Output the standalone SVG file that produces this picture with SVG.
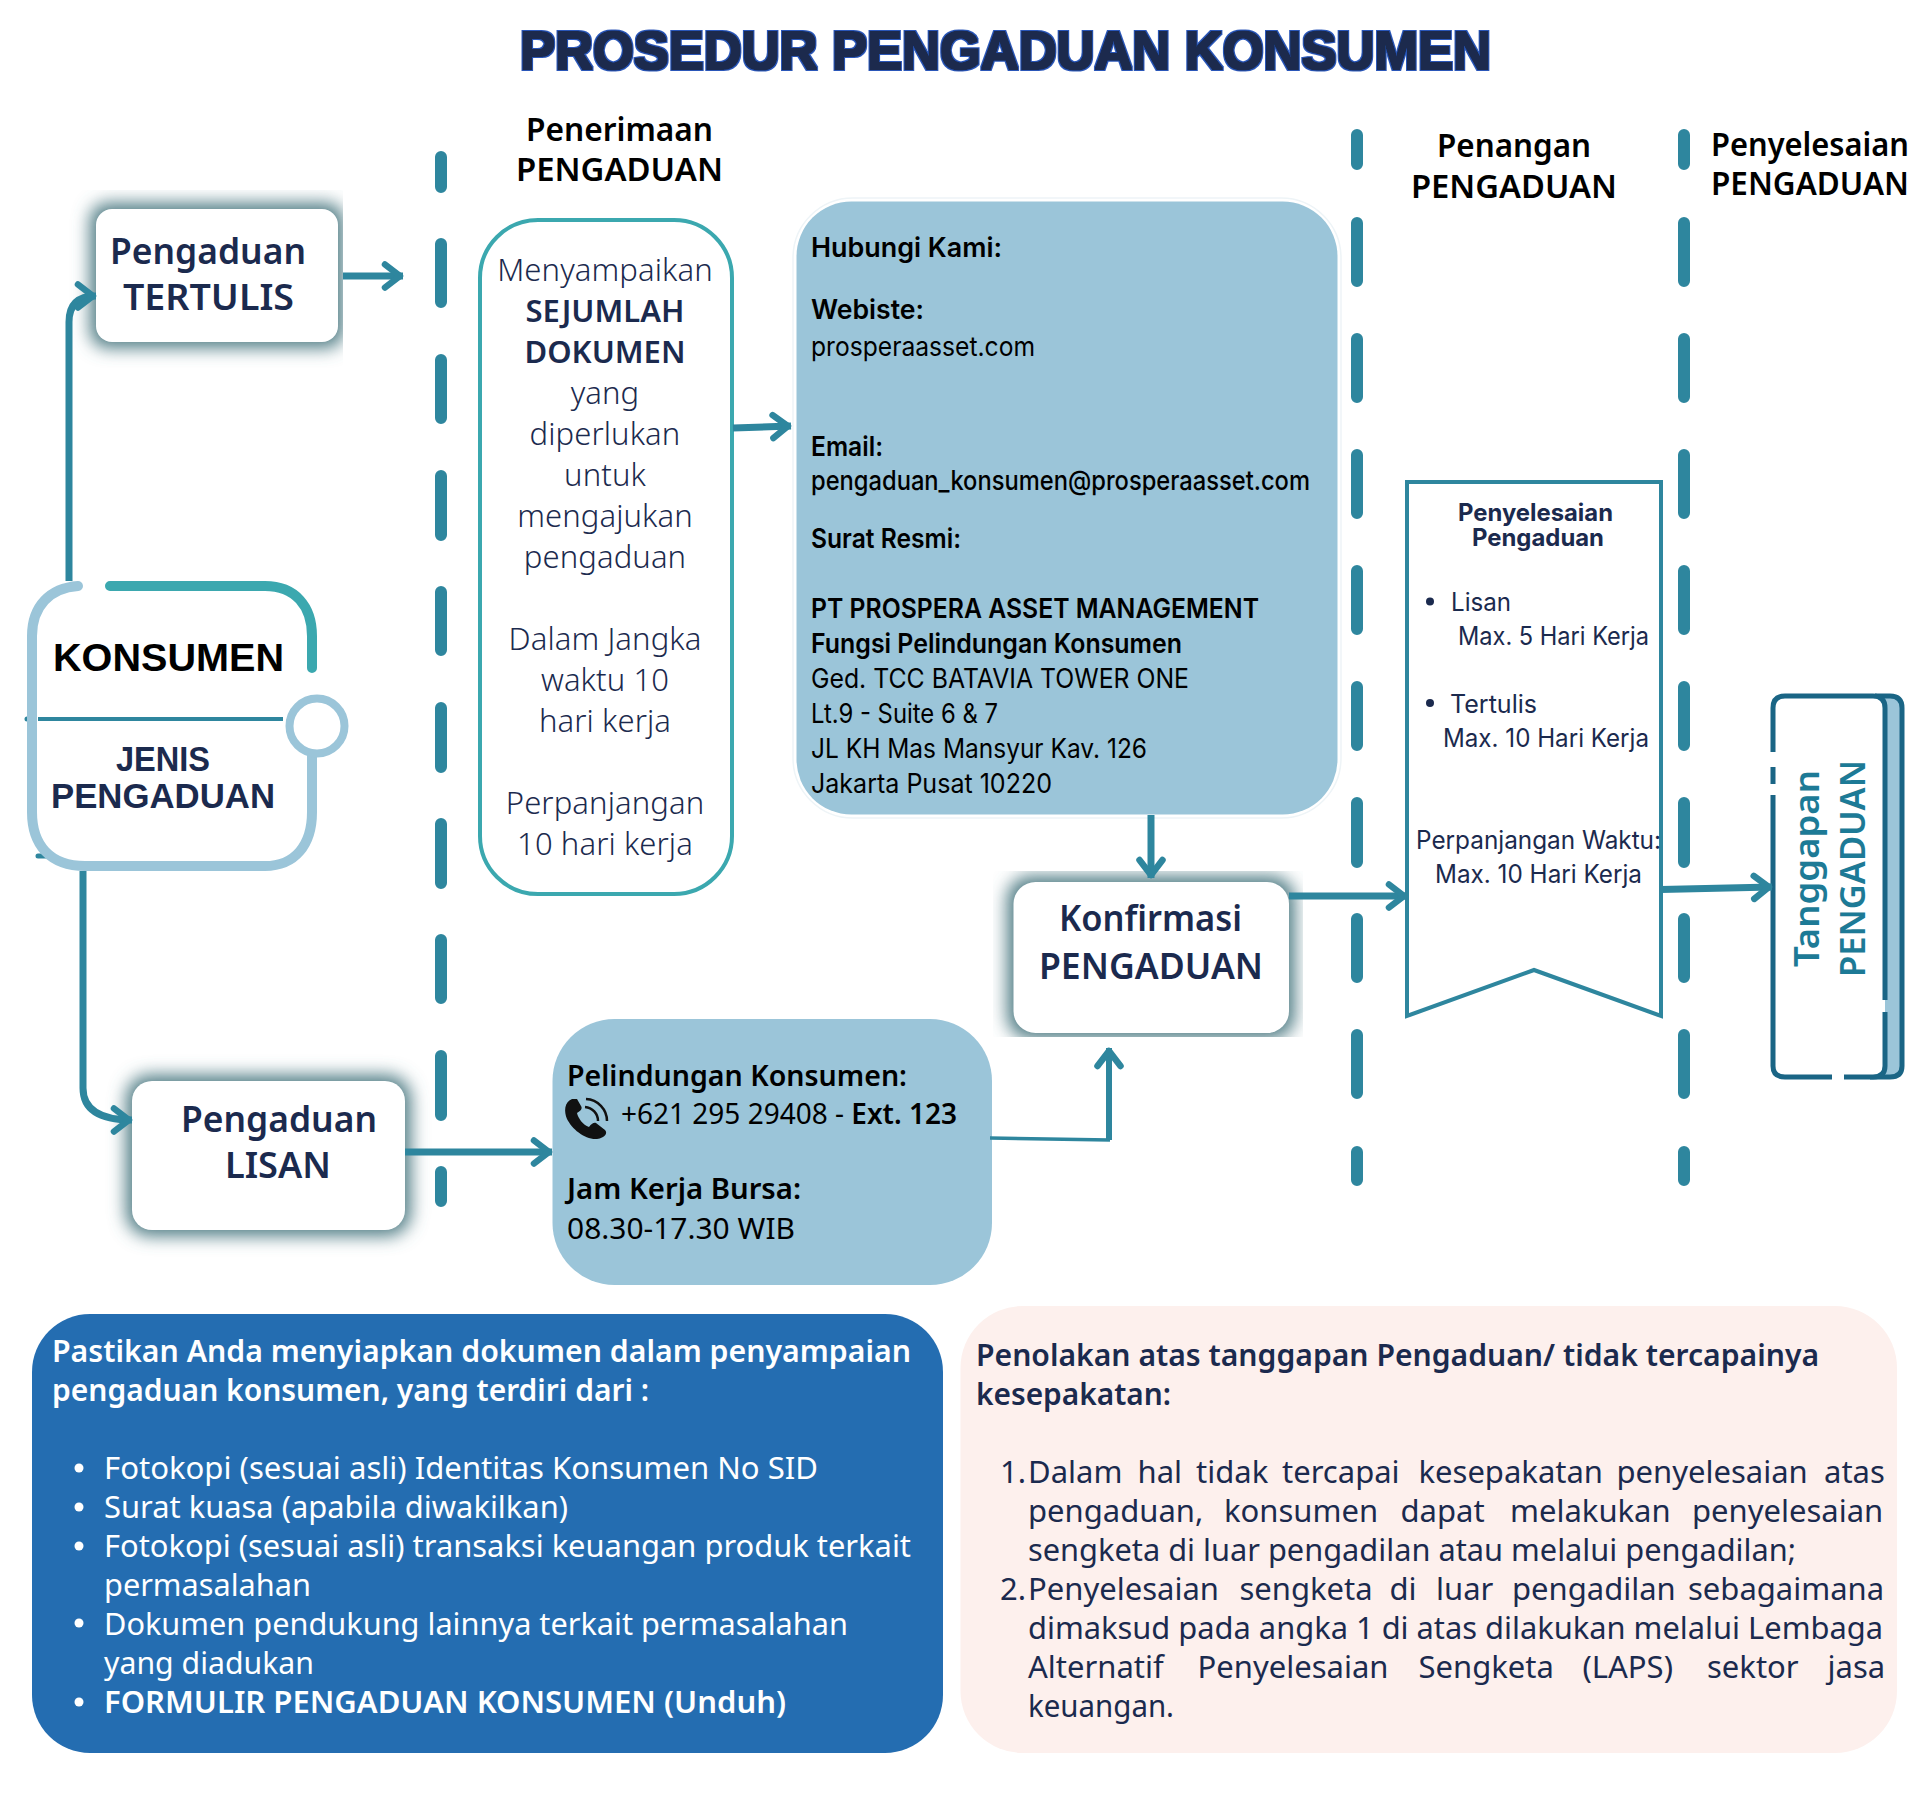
<svg xmlns="http://www.w3.org/2000/svg" width="1920" height="1800" viewBox="0 0 1920 1800">
<style>
text{font-family:"Noto Sans","Liberation Sans",sans-serif;fill:#1b2a4e}
.title{font-family:"Liberation Sans",sans-serif;font-weight:700;font-size:53px;fill:#1a2a4e;filter:url(#heavy)}
.hd{font-weight:600;font-size:32px;fill:#000}
.nd{font-weight:600;font-size:36px}
.md{font-weight:300;font-size:31px;letter-spacing:.1px;text-anchor:middle}
.mdb{font-weight:600;font-size:31px;text-anchor:middle}
.k{font-family:"Liberation Sans",sans-serif;font-weight:700;font-size:38px}
.k2{font-family:"Liberation Sans",sans-serif;font-weight:700;font-size:35px}
.c{font-family:Inter,"Noto Sans",sans-serif;font-size:27px;fill:#000;font-weight:400}
.cb{font-family:Inter,"Noto Sans",sans-serif;font-size:27px;fill:#000;font-weight:600}
.p{font-size:29px;fill:#000}
.pb{font-size:29px;fill:#000;font-weight:600}
.s{font-family:Inter,"Noto Sans",sans-serif;font-size:25px;font-weight:400}
.sb{font-family:Inter,"Noto Sans",sans-serif;font-size:24px;font-weight:700}
.w{font-size:31px;fill:#fff}
.wb{font-size:31px;fill:#fff;font-weight:600}
.d{font-size:31px}
.db{font-size:31px;font-weight:600}
.tg{font-weight:600;font-size:34px;fill:#1d7a96}
.box{fill:#9bc5d9}
.white{fill:#fff}
.shadow{fill:#4f7c84;filter:url(#blur)}
.lane{fill:none;stroke:#2e869e;stroke-width:12;stroke-linecap:round}
.conn{fill:none;stroke:#2e869e;stroke-width:7}
.arrow{marker-end:url(#ah)}
</style>
<defs>
<filter id="blur" x="-30%" y="-30%" width="160%" height="160%"><feGaussianBlur stdDeviation="8.5"/></filter>
<filter id="heavy" x="-2%" y="-20%" width="104%" height="140%">
<feMorphology in="SourceGraphic" operator="dilate" radius="0.7" result="core"/>
<feMorphology in="SourceAlpha" operator="dilate" radius="2.2" result="out"/>
<feFlood flood-color="#2a56b8"/><feComposite in2="out" operator="in" result="edge"/>
<feMerge><feMergeNode in="edge"/><feMergeNode in="core"/></feMerge>
</filter>
<clipPath id="clipT"><rect x="50" y="190" width="293" height="178"/></clipPath>
<clipPath id="clipK"><rect x="993" y="871" width="310" height="166"/></clipPath>
<marker id="ah" markerUnits="userSpaceOnUse" viewBox="0 0 32 36" refX="29" refY="18" markerWidth="32" markerHeight="36" orient="auto"><path d="M11 6.5L26 18L11 29.5" fill="none" stroke="#2e869e" stroke-width="6.5" stroke-linecap="round" stroke-linejoin="round"/></marker>
</defs>
<rect width="1920" height="1800" fill="#fff"/>
<text class="title" x="520" y="69" textLength="971" lengthAdjust="spacingAndGlyphs">PROSEDUR PENGADUAN KONSUMEN</text>
<g id="lanes">
<path class="lane" d="M441 157V187M441 244V302M441 360V418M441 476V535M441 592V650M441 708V767M441 824V883M441 940V998M441 1056V1115M441 1172V1201"/>
<path class="lane" d="M1357 135V164M1357 223V281M1357 339V397M1357 455V513M1357 571V629M1357 687V745M1357 803V862M1357 919V977M1357 1035V1093M1357 1152V1180"/>
<path class="lane" d="M1684 135V164M1684 223V281M1684 339V397M1684 455V513M1684 571V629M1684 687V745M1684 803V862M1684 919V977M1684 1035V1093M1684 1152V1180"/>
</g>
<g id="header-penerimaan"><text class="hd" x="526" y="141" textLength="187" lengthAdjust="spacingAndGlyphs">Penerimaan</text><text class="hd" x="516" y="181" textLength="207" lengthAdjust="spacingAndGlyphs">PENGADUAN</text></g>
<g id="header-penangan"><text class="hd" x="1437" y="157" textLength="154" lengthAdjust="spacingAndGlyphs">Penangan</text><text class="hd" x="1411" y="198" textLength="206" lengthAdjust="spacingAndGlyphs">PENGADUAN</text></g>
<g id="header-penyelesaian"><text class="hd" x="1711" y="156" textLength="198" lengthAdjust="spacingAndGlyphs">Penyelesaian</text><text class="hd" x="1711" y="195" textLength="198" lengthAdjust="spacingAndGlyphs">PENGADUAN</text></g>
<g id="node-tertulis">
<g clip-path="url(#clipT)"><rect class="shadow" x="90" y="203" width="254" height="145" rx="18"/></g>
<rect class="white" x="96" y="209" width="242" height="133" rx="16"/>
<text class="nd" x="110" y="264" textLength="196" lengthAdjust="spacingAndGlyphs">Pengaduan</text>
<text class="nd" x="123" y="310" textLength="171" lengthAdjust="spacingAndGlyphs">TERTULIS</text>
</g>
<g id="node-konsumen">
<rect class="white" x="32" y="586" width="280" height="280" rx="50"/>
<path d="M38 719H283" stroke="#2e869e" stroke-width="4" fill="none"/>
<path d="M27 719H32M38 856H50" stroke="#2e869e" stroke-width="5" fill="none" stroke-linecap="round"/>
<path d="M78 586C50 588 32 606 32 636V812C32 845 50 866 85 866H265C295 866 312 845 312 812V750" fill="none" stroke="#9bc5d9" stroke-width="10" stroke-linecap="round"/>
<path d="M110 586H265C295 586 312 606 312 636V668" fill="none" stroke="#3ba8af" stroke-width="10" stroke-linecap="round"/>
<circle cx="317" cy="726" r="27.5" fill="#fff" stroke="#9bc5d9" stroke-width="8"/>
<text class="k" style="fill:#000" x="53" y="671" textLength="231" lengthAdjust="spacingAndGlyphs">KONSUMEN</text>
<text class="k2" x="116" y="771" textLength="94" lengthAdjust="spacingAndGlyphs">JENIS</text>
<text class="k2" x="51" y="808" textLength="224" lengthAdjust="spacingAndGlyphs">PENGADUAN</text>
</g>
<g id="node-lisan">
<rect class="shadow" x="126" y="1075" width="285" height="161" rx="24"/>
<rect class="white" x="132" y="1081" width="273" height="149" rx="20"/>
<text class="nd" x="181" y="1132" textLength="196" lengthAdjust="spacingAndGlyphs">Pengaduan</text>
<text class="nd" x="225" y="1178" textLength="106" lengthAdjust="spacingAndGlyphs">LISAN</text>
</g>
<g id="node-dokumen">
<rect x="480" y="220" width="252" height="674" rx="58" fill="#fff" stroke="#3ba8af" stroke-width="4"/>
<text class="md" x="605" y="281">Menyampaikan</text>
<text class="mdb" x="605" y="322">SEJUMLAH</text>
<text class="mdb" x="605" y="363">DOKUMEN</text>
<text class="md" x="605" y="404">yang</text>
<text class="md" x="605" y="445">diperlukan</text>
<text class="md" x="605" y="486">untuk</text>
<text class="md" x="605" y="527">mengajukan</text>
<text class="md" x="605" y="568">pengaduan</text>
<text class="md" x="605" y="650">Dalam Jangka</text>
<text class="md" x="605" y="691">waktu 10</text>
<text class="md" x="605" y="732">hari kerja</text>
<text class="md" x="605" y="814">Perpanjangan</text>
<text class="md" x="605" y="855">10 hari kerja</text>
</g>
<g id="node-kontak">
<rect x="793" y="198" width="548" height="620" rx="60" fill="#fff" stroke="#eef4f7" stroke-width="1.5"/>
<rect class="box" x="796.5" y="201.5" width="541" height="613" rx="55"/>
<text class="cb" x="811" y="257" textLength="191" lengthAdjust="spacingAndGlyphs">Hubungi Kami:</text>
<text class="cb" x="811" y="319" textLength="113" lengthAdjust="spacingAndGlyphs">Webiste:</text>
<text class="c" x="811" y="356" textLength="224" lengthAdjust="spacingAndGlyphs">prosperaasset.com</text>
<text class="cb" x="811" y="456" textLength="72" lengthAdjust="spacingAndGlyphs">Email:</text>
<text class="c" style="font-weight:500" x="811" y="490" textLength="499" lengthAdjust="spacingAndGlyphs">pengaduan_konsumen@prosperaasset.com</text>
<text class="cb" x="811" y="548" textLength="150" lengthAdjust="spacingAndGlyphs">Surat Resmi:</text>
<text class="cb" x="811" y="618" textLength="448" lengthAdjust="spacingAndGlyphs">PT PROSPERA ASSET MANAGEMENT</text>
<text class="cb" x="811" y="653" textLength="371" lengthAdjust="spacingAndGlyphs">Fungsi Pelindungan Konsumen</text>
<text class="c" x="811" y="688" textLength="378" lengthAdjust="spacingAndGlyphs">Ged. TCC BATAVIA TOWER ONE</text>
<text class="c" x="811" y="723" textLength="187" lengthAdjust="spacingAndGlyphs">Lt.9 - Suite 6 &amp; 7</text>
<text class="c" x="811" y="758" textLength="336" lengthAdjust="spacingAndGlyphs">JL KH Mas Mansyur Kav. 126</text>
<text class="c" x="811" y="793" textLength="241" lengthAdjust="spacingAndGlyphs">Jakarta Pusat 10220</text>
</g>
<g id="node-pelindungan">
<rect class="box" x="552.5" y="1019" width="439.5" height="266" rx="62"/>
<text class="pb" x="567" y="1086" textLength="340" lengthAdjust="spacingAndGlyphs">Pelindungan Konsumen:</text>
<path d="M572 1099C564 1102 564 1112 567 1119C572 1129 585 1140 597 1139C605 1138 608 1133 605 1130L596 1123C594 1122 591 1124 589 1127C583 1125 578 1118 577 1113C580 1111 583 1109 581 1106L577 1099Z" fill="#111"/>
<path d="M586 1099A22 22 0 0 1 607 1121M585 1107A14 14 0 0 1 598 1121" fill="none" stroke="#111" stroke-width="2.5"/>
<text class="p" x="621" y="1124" textLength="336" lengthAdjust="spacingAndGlyphs">+621 295 29408 - <tspan font-weight="600">Ext. 123</tspan></text>
<text class="pb" x="567" y="1199" textLength="234" lengthAdjust="spacingAndGlyphs">Jam Kerja Bursa:</text>
<text class="p" x="567" y="1239" textLength="228" lengthAdjust="spacingAndGlyphs">08.30-17.30 WIB</text>
</g>
<g id="node-konfirmasi">
<g clip-path="url(#clipK)"><rect class="shadow" x="1007" y="876" width="288" height="163" rx="24"/></g>
<rect class="white" x="1013.5" y="882" width="275.5" height="151" rx="22"/>
<text class="nd" x="1059" y="931" textLength="183" lengthAdjust="spacingAndGlyphs">Konfirmasi</text>
<text class="nd" x="1039" y="979" textLength="224" lengthAdjust="spacingAndGlyphs">PENGADUAN</text>
</g>
<g id="node-penyelesaian">
<path d="M1407 482H1661V1016L1534 970L1407 1016Z" fill="#fff" stroke="#2e869e" stroke-width="4"/>
<text class="sb" x="1458" y="521" textLength="155" lengthAdjust="spacingAndGlyphs">Penyelesaian</text>
<text class="sb" x="1472" y="546" textLength="132" lengthAdjust="spacingAndGlyphs">Pengaduan</text>
<circle cx="1430" cy="601.5" r="4" fill="#1b2a4e"/>
<text class="s" x="1451" y="611" textLength="60" lengthAdjust="spacingAndGlyphs">Lisan</text>
<text class="s" x="1458" y="645" textLength="191" lengthAdjust="spacingAndGlyphs">Max. 5 Hari Kerja</text>
<circle cx="1430" cy="703" r="4" fill="#1b2a4e"/>
<text class="s" x="1450" y="713" textLength="87" lengthAdjust="spacingAndGlyphs">Tertulis</text>
<text class="s" x="1443" y="747" textLength="206" lengthAdjust="spacingAndGlyphs">Max. 10 Hari Kerja</text>
<text class="s" x="1416" y="849" textLength="245" lengthAdjust="spacingAndGlyphs">Perpanjangan Waktu:</text>
<text class="s" x="1435" y="883" textLength="207" lengthAdjust="spacingAndGlyphs">Max. 10 Hari Kerja</text>
</g>
<g id="node-tanggapan">
<path class="box" d="M1785 696H1890Q1902 696 1902 708V1066Q1902 1077 1890 1077H1785Z"/>
<path d="M1875 696H1890Q1902 696 1902 708V1066Q1902 1077 1890 1077H1870" fill="none" stroke="#1a6585" stroke-width="5"/>
<rect class="white" x="1773" y="696" width="112" height="381" rx="12"/>
<path d="M1773 752V708Q1773 696 1785 696H1873Q1885 696 1885 708V1000M1885 1012V1066Q1885 1077 1873 1077H1844M1832 1077H1785Q1773 1077 1773 1066V795M1773 784V767" fill="none" stroke="#1a6585" stroke-width="5"/>
<text class="tg" transform="translate(1819 967) rotate(-90)" textLength="197" lengthAdjust="spacingAndGlyphs">Tanggapan</text>
<text class="tg" transform="translate(1865 977) rotate(-90)" textLength="217" lengthAdjust="spacingAndGlyphs">PENGADUAN</text>
</g>
<g id="node-dokumen-info">
<rect x="32" y="1314" width="911" height="439" rx="58" fill="#246db1"/>
<text class="wb" x="52" y="1362" textLength="859" lengthAdjust="spacingAndGlyphs">Pastikan Anda menyiapkan dokumen dalam penyampaian</text>
<text class="wb" x="52" y="1401" textLength="597" lengthAdjust="spacingAndGlyphs">pengaduan konsumen, yang terdiri dari :</text>
<circle cx="79" cy="1468" r="4.5" fill="#fff"/><circle cx="79" cy="1507" r="4.5" fill="#fff"/><circle cx="79" cy="1546" r="4.5" fill="#fff"/><circle cx="79" cy="1623" r="4.5" fill="#fff"/><circle cx="79" cy="1702" r="4.5" fill="#fff"/>
<text class="w" x="104" y="1479" textLength="714" lengthAdjust="spacingAndGlyphs">Fotokopi (sesuai asli) Identitas Konsumen No SID</text>
<text class="w" x="104" y="1518" textLength="464" lengthAdjust="spacingAndGlyphs">Surat kuasa (apabila diwakilkan)</text>
<text class="w" x="104" y="1557" textLength="807" lengthAdjust="spacingAndGlyphs">Fotokopi (sesuai asli) transaksi keuangan produk terkait</text>
<text class="w" x="104" y="1596" textLength="207" lengthAdjust="spacingAndGlyphs">permasalahan</text>
<text class="w" x="104" y="1635" textLength="744" lengthAdjust="spacingAndGlyphs">Dokumen pendukung lainnya terkait permasalahan</text>
<text class="w" x="104" y="1674" textLength="210" lengthAdjust="spacingAndGlyphs">yang diadukan</text>
<text class="wb" x="104" y="1713" textLength="682" lengthAdjust="spacingAndGlyphs">FORMULIR PENGADUAN KONSUMEN (Unduh)</text>
</g>
<g id="node-penolakan">
<rect x="960.5" y="1306" width="936.5" height="447" rx="62" fill="#fdf0ed"/>
<text class="db" x="976" y="1366" textLength="843" lengthAdjust="spacingAndGlyphs">Penolakan atas tanggapan Pengaduan/ tidak tercapainya</text>
<text class="db" x="976" y="1405" textLength="195" lengthAdjust="spacingAndGlyphs">kesepakatan:</text>
<text class="d" x="1000" y="1483">1.</text>
<text class="d" y="1483"><tspan x="1028">Dalam </tspan><tspan x="1137.5">hal </tspan><tspan x="1196">tidak </tspan><tspan x="1282">tercapai </tspan><tspan x="1418.5">kesepakatan </tspan><tspan x="1616.5">penyelesaian </tspan><tspan x="1824">atas</tspan></text>
<text class="d" y="1522"><tspan x="1028">pengaduan, </tspan><tspan x="1224">konsumen </tspan><tspan x="1400.5">dapat </tspan><tspan x="1510">melakukan </tspan><tspan x="1692">penyelesaian</tspan></text>
<text class="d" x="1028" y="1561" textLength="768" lengthAdjust="spacingAndGlyphs">sengketa di luar pengadilan atau melalui pengadilan;</text>
<text class="d" x="1000" y="1600">2.</text>
<text class="d" y="1600"><tspan x="1028">Penyelesaian </tspan><tspan x="1239.5">sengketa </tspan><tspan x="1389.5">di </tspan><tspan x="1436">luar </tspan><tspan x="1512">pengadilan </tspan><tspan x="1688">sebagaimana</tspan></text>
<text class="d" x="1028" y="1639" textLength="855" lengthAdjust="spacingAndGlyphs">dimaksud pada angka 1 di atas dilakukan melalui Lembaga</text>
<text class="d" y="1678"><tspan x="1028">Alternatif </tspan><tspan x="1197.5">Penyelesaian </tspan><tspan x="1418.5">Sengketa </tspan><tspan x="1582.5">(LAPS) </tspan><tspan x="1707">sektor </tspan><tspan x="1827.5">jasa</tspan></text>
<text class="d" x="1028" y="1717" textLength="146" lengthAdjust="spacingAndGlyphs">keuangan.</text>
</g>
<g id="connectors">
<path class="conn arrow" d="M69 581V322Q69 296 96 296"/>
<path class="conn arrow" d="M343 276H403"/>
<path class="conn arrow" d="M733 428L791 426"/>
<path class="conn arrow" d="M1151 815V878"/>
<path class="conn arrow" d="M1289 896H1407"/>
<path class="conn arrow" d="M1661 889.5L1772 887"/>
<path class="conn arrow" d="M83 871V1088Q83 1120 132 1120"/>
<path class="conn arrow" d="M405 1152H552"/>
<path class="conn" style="stroke-width:3.5" d="M990 1138L1110 1140"/>
<path class="conn arrow" style="stroke-width:6" d="M1109 1140V1048"/>
</g>
</svg>
